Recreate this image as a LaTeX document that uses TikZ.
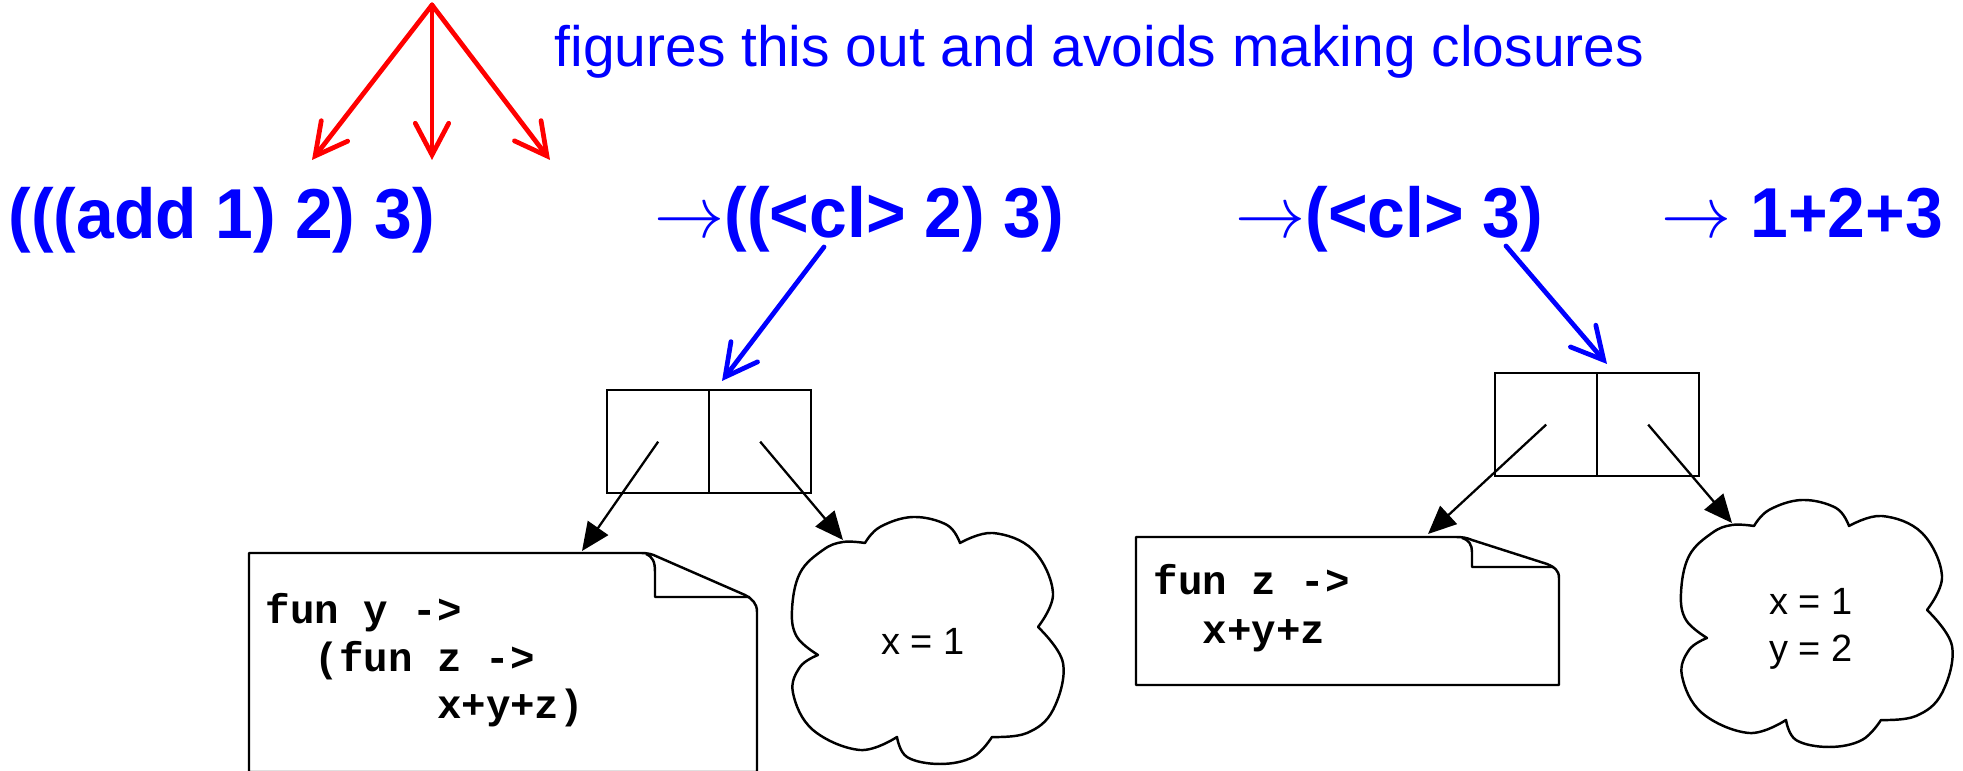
\documentclass[tikz,border=0pt]{standalone}
\usepackage{fontspec}
\usepackage{graphicx}
\setmainfont{Liberation Sans}
\newfontfamily\monof{Liberation Mono}
\usetikzlibrary{arrows.meta}
\definecolor{pblue}{RGB}{0,0,255}
\definecolor{pred}{RGB}{255,0,0}
\newcommand{\bigtxt}[1]{\scalebox{0.96}[1]{#1}}
\newcommand{\rarr}{$\rightarrow$}
\begin{document}
\begin{tikzpicture}[x=0.01cm,y=-0.01cm,
  big/.style={anchor=base west, inner sep=0, text=pblue, font=\fontsize{20.1}{24}\selectfont\bfseries},
  note/.style={anchor=base west, inner sep=0, text=pblue, font=\fontsize{16.2}{19}\selectfont},
  code/.style={anchor=base west, inner sep=0, font=\monof\bfseries\fontsize{11.6}{14}\selectfont},
  ctext/.style={anchor=base, inner sep=0, font=\fontsize{10.8}{13}\selectfont},
  cell/.style={draw, line width=0.65pt, minimum width=1.02cm, minimum height=1.03cm, inner sep=0, anchor=north west},
  barb/.style={line width=1.35pt, line cap=round, -{Straight Barb[length=9pt,width=9.5pt,line cap=round]}},
  ptr/.style={line width=0.65pt, -{Triangle[length=8pt,width=7pt]}},
  shapeline/.style={line width=0.7pt, line join=round},
  cloudpic/.pic={
    \draw[line width=0.7pt, line join=round]
      plot[smooth, tension=0.65] coordinates {(26,138) (5,120) (0,93) (8,56) (31,33) (51,25) (73,26)}
      -- plot[smooth, tension=0.65] coordinates {(73,26) (88,10) (121,0) (155,8) (168,26)}
      -- plot[smooth, tension=0.65] coordinates {(168,26) (201,16) (241,33) (261,76) (246,110)}
      -- plot[smooth, tension=0.65] coordinates {(246,110) (271,146) (261,193) (235,216) (200,220)}
      -- plot[smooth, tension=0.65] coordinates {(200,220) (181,240) (148,247) (115,240) (105,220)}
      -- plot[smooth, tension=0.65] coordinates {(105,220) (68,233) (21,213) (1,176) (8,150) (26,138)}
      -- cycle;
  },
]
\clip (0,0) rectangle (1963,771);
\fill[white] (0,0) rectangle (1963,771);

% top texts
\node[note] (note) at (554,67) {figures this out and avoids making closures};
\node[big] (t0) at (8,239) {\bigtxt{(((add 1) 2) 3)}};
\node[big] (t1) at (654,238) {\bigtxt{\rarr((<cl> 2) 3)}};
\node[big] (t2) at (1235,238) {\bigtxt{\rarr(<cl> 3)}};
\node[big] (t3) at (1661,238) {\bigtxt{\rarr\ 1+2+3}};

% red arrows
\coordinate (rtop) at (432,5);
\coordinate (rt1) at (312,160);
\coordinate (rt2) at (432,160);
\coordinate (rt3) at (550,160);
\draw[barb, pred] (rtop) -- (rt1);
\draw[barb, pred] (rtop) -- (rt2);
\draw[barb, pred] (rtop) -- (rt3);

% closure boxes
\node[cell] (c1a) at (606,389) {};
\node[cell] (c1b) at (708,389) {};
\node[cell] (c2a) at (1494,372) {};
\node[cell] (c2b) at (1596,372) {};

% blue arrows
\coordinate (b1s) at (824,247);
\coordinate (b1e) at (722,381);
\coordinate (b2s) at (1506,246);
\coordinate (b2e) at (1607,364);
\draw[barb, pblue] (b1s) -- (b1e);
\draw[barb, pblue] (b2s) -- (b2e);

% document 1
\draw[shapeline] (249,553) -- (640,553) .. controls (648,553) and (652,554) .. (658,557)
  -- (745,595) .. controls (752,599) and (757,603) .. (757,612) -- (757,772) -- (249,772) -- cycle;
\draw[shapeline] (646,554) .. controls (653,557) and (655,562) .. (655,572) -- (655,597) -- (750,597);
\node[code] (d1a) at (265,624) {fun y ->};
\node[code] (d1b) at (265,672) {\hphantom{xx}(fun z ->};
\node[code] (d1c) at (265,719) {\hphantom{xxxxxxx}x+y+z)};

% document 2
\draw[shapeline] (1136,537) -- (1456,537) .. controls (1463,537) and (1467,538) .. (1472,540)
  -- (1547,564) .. controls (1554,567) and (1559,570) .. (1559,578) -- (1559,685) -- (1136,685) -- cycle;
\draw[shapeline] (1462,538) .. controls (1469,540) and (1472,545) .. (1472,552) -- (1472,567) -- (1554,567);
\node[code] (d2a) at (1153,595) {fun z ->};
\node[code] (d2b) at (1153,644) {\hphantom{xx}x+y+z};

% clouds
\pic at (792,517) {cloudpic};
\pic at (1681,500) {cloudpic};
\node[ctext] (e1) at (923,655) {x = 1};
\node[ctext] (e2a) at (1811,615) {x = 1};
\node[ctext] (e2b) at (1811,662) {y = 2};

% pointers
\coordinate (p1) at (582,551);
\coordinate (p2) at (843,540);
\coordinate (p3) at (1428,534);
\coordinate (p4) at (1732,523);
\draw[ptr] (c1a.center) -- (p1);
\draw[ptr] (c1b.center) -- (p2);
\draw[ptr] (c2a.center) -- (p3);
\draw[ptr] (c2b.center) -- (p4);
\end{tikzpicture}
\end{document}
